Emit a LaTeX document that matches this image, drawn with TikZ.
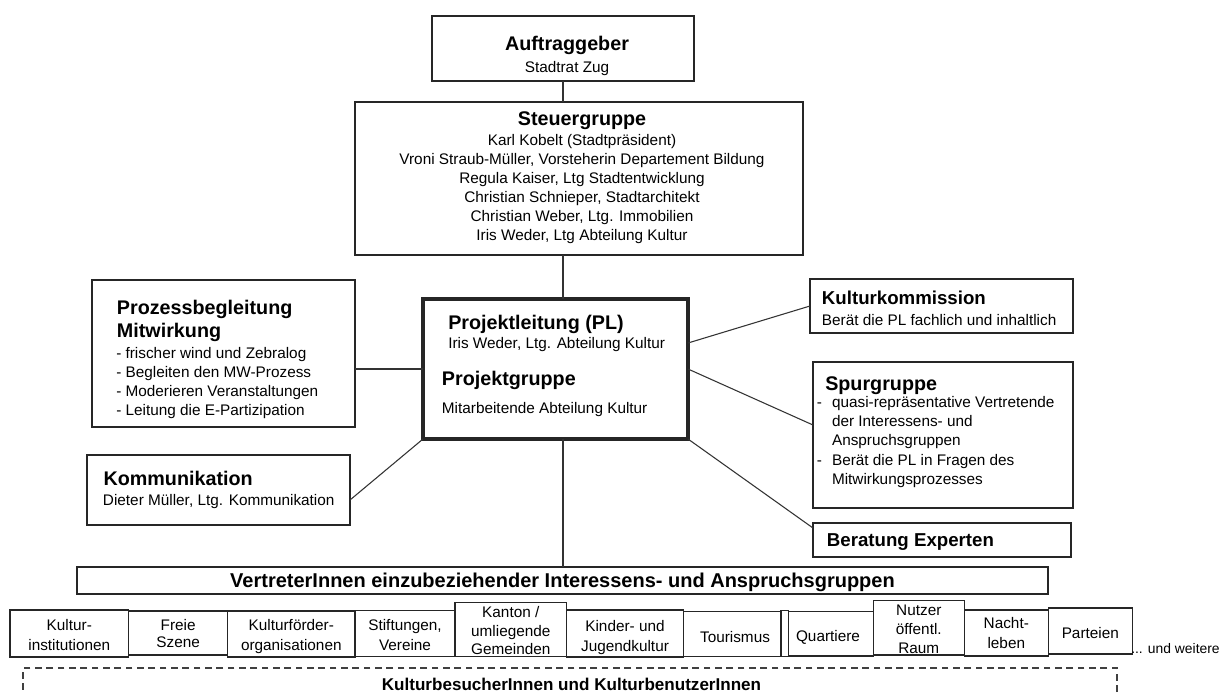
\documentclass[tikz,border=0pt]{standalone}
\usepackage{fontspec}
\setmainfont{Liberation Sans}
\usetikzlibrary{fit,calc}
\begin{document}
\begin{tikzpicture}[x=0.75pt,y=-0.75pt,
  box/.style={draw=black!85, line width=1pt, fill=white, inner sep=0pt, outer sep=0pt},
  thickbox/.style={box, line width=2.6pt},
  dbox/.style={draw=black!75, line width=1.1pt, dash pattern=on 5pt off 3.5pt, inner sep=0pt, outer sep=0pt},
  link/.style={draw=black!80, line width=0.8pt},
  hd/.style={font=\bfseries\fontsize{14.8}{17.25}\selectfont, inner sep=0pt, align=left},
  hds/.style={font=\bfseries\fontsize{14}{16}\selectfont, inner sep=0pt},
  tx/.style={font=\fontsize{11.5}{14.25}\selectfont, inner sep=0pt},
  cell/.style={font=\fontsize{11.5}{15}\selectfont, inner sep=0pt, align=center, anchor=base},
]
\fill[white] (0,0) rectangle (1222,693);
\useasboundingbox (0,0) rectangle (1222,693);

% Auftraggeber
\node[box, fit={(432,16) (694,81)}] (auf) {};
\node[hd, anchor=base] (aufT) at (567,50) {Auftraggeber};
\node[tx, anchor=base] (aufS) at (567,72.5) {Stadtrat Zug};

% Steuergruppe
\node[box, fit={(355,102) (803,255)}] (steu) {};
\node[hd, anchor=base] (steuT) at (582,125) {Steuergruppe};
\node[tx, anchor=base, align=center] (steuS) at (582,240.5) {Karl Kobelt (Stadtpräsident)\\Vroni Straub-Müller, Vorsteherin Departement Bildung\\Regula Kaiser, Ltg Stadtentwicklung\\Christian Schnieper, Stadtarchitekt\\Christian Weber, Ltg. Immobilien\\Iris Weder, Ltg Abteilung Kultur};

% Projektleitung
\node[thickbox, fit={(423,299) (688,439)}] (pl) {};
\node[hd, anchor=base west] (plT) at (448,329) {Projektleitung (PL)};
\node[tx, anchor=base west] (plS) at (448,348.5) {Iris Weder, Ltg. Abteilung Kultur};
\node[hd, anchor=base west] (pgT) at (441.7,385) {Projektgruppe};
\node[tx, anchor=base west] (pgS) at (441.7,413.5) {Mitarbeitende Abteilung Kultur};

% Prozessbegleitung
\node[box, fit={(92,280) (355,427)}] (proz) {};
\node[hd, anchor=base west] (prozT) at (116.7,337) {Prozessbegleitung\\Mitwirkung};
\node[tx, anchor=base west, align=left] (prozS) at (116,415) {- frischer wind und Zebralog\\- Begleiten den MW-Prozess\\- Moderieren Veranstaltungen\\- Leitung die E-Partizipation};

% Kommunikation
\node[box, fit={(87,455) (350,525)}] (komm) {};
\node[hd, anchor=base west] (kommT) at (103.3,485) {Kommunikation};
\node[tx, anchor=base west] (kommS) at (102.7,505.5) {Dieter Müller, Ltg. Kommunikation};

% Kulturkommission
\node[box, fit={(810,279) (1073,333)}] (kk) {};
\node[hds, anchor=base west] (kkT) at (821.7,304.5) {Kulturkommission};
\node[tx, anchor=base west] (kkS) at (821.7,325.5) {Berät die PL fachlich und inhaltlich};

% Spurgruppe
\node[box, fit={(813,362) (1073,508)}] (spur) {};
\node[hd, anchor=base west] (spurT) at (825,390) {Spurgruppe};
\node[tx, anchor=base west, align=left, font=\fontsize{11.5}{14.6}\selectfont] (spurS) at (816.7,484.9) {\makebox[11.3pt][l]{-}quasi-repräsentative Vertretende\\\hspace*{11.3pt}der Interessens- und\\\hspace*{11.3pt}Anspruchsgruppen\\\makebox[11.3pt][l]{-}Berät die PL in Fragen des\\\hspace*{11.3pt}Mitwirkungsprozesses};

% Beratung
\node[box, fit={(813,523) (1071,557)}] (ber) {};
\node[hds, anchor=base west] (berT) at (826.7,546.5) {Beratung Experten};

% Vertreter
\node[box, fit={(77,567) (1048,594)}] (vert) {};
\node[hd, anchor=base, font=\bfseries\fontsize{15}{17}\selectfont] (vertT) at (562.5,587) {VertreterInnen einzubeziehender Interessens- und Anspruchsgruppen};

% bottom row
\node[box, fit={(10,610) (128.7,657)}] (b1) {};
\node[cell] (b1t) at (69.3,650.5) {Kultur-\\institutionen};
\node[box, fit={(128.7,611) (227.7,655)}] (b2) {};
\node[cell, font=\fontsize{11.5}{12.75}\selectfont] (b2t) at (178.2,647.5) {Freie\\Szene};
\node[box, fit={(227.7,611) (355,657)}] (b3) {};
\node[cell] (b3t) at (291.3,650.5) {Kulturförder-\\organisationen};
\node[box, fit={(355,610.7) (455,656.7)}] (b4) {};
\node[cell] (b4t) at (405,650.5) {Stiftungen,\\Vereine};
\node[box, fit={(455,602.7) (566.7,656.7)}] (b5) {};
\node[cell, font=\fontsize{11.5}{14.1}\selectfont] (b5t) at (510.8,654.8) {Kanton /\\umliegende\\Gemeinden};
\node[box, fit={(566.7,610) (683.3,657)}] (b6) {};
\node[cell] (b6t) at (625,651) {Kinder- und\\Jugendkultur};
\node[box, fit={(683.3,611.7) (781,656.7)}] (b7) {};
\node[cell] (b7t) at (735,642) {Tourismus};
\node[box, fit={(781,610.7) (788.3,656.7)}] (b7b) {};
\node[box, fit={(788.3,611.7) (873.3,656)}] (b8) {};
\node[cell] (b8t) at (828,641.5) {Quartiere};
\node[box, fit={(873.3,600.7) (964.3,655)}] (b9) {};
\node[cell, font=\fontsize{11.5}{14.25}\selectfont] (b9t) at (918.8,653.5) {Nutzer\\öffentl.\\Raum};
\node[box, fit={(964.3,610) (1048.3,656)}] (b10) {};
\node[cell] (b10t) at (1006.3,648.5) {Nacht-\\leben};
\node[box, fit={(1048.3,608) (1132.3,654)}] (b11) {};
\node[cell] (b11t) at (1090.3,638) {Parteien};
\node[tx, anchor=base west, font=\fontsize{10.4}{12}\selectfont] (more) at (1131,653) {... und weitere};

% dashed box
\node[dbox, fit={(23,668) (1117,720)}] (kb) {};
\node[inner sep=0pt, anchor=base, font=\bfseries\fontsize{12.8}{15}\selectfont] (kbT) at (571.5,690) {KulturbesucherInnen und KulturbenutzerInnen};

% connectors
\draw[link] (auf.south) -- (auf.south |- steu.north);
\draw[link] (auf.south |- steu.south) -- (auf.south |- pl.north);
\draw[link] (auf.south |- pl.south) -- (auf.south |- vert.north);
\draw[link] (proz.east) ++(0,15.5) coordinate (pa) -- (pa -| pl.west);
\draw[link] (komm.east) ++(0,10) coordinate (ka) -- (pl.south west);
\draw[link] (pl.east) ++(0,-26) coordinate (kc) -- (kk.west);
\draw[link] (pl.east) -- ($(spur.west)+(0,-10)$);
\draw[link] (pl.south east) -- ($(ber.west)+(0,-12)$);
\end{tikzpicture}
\end{document}
